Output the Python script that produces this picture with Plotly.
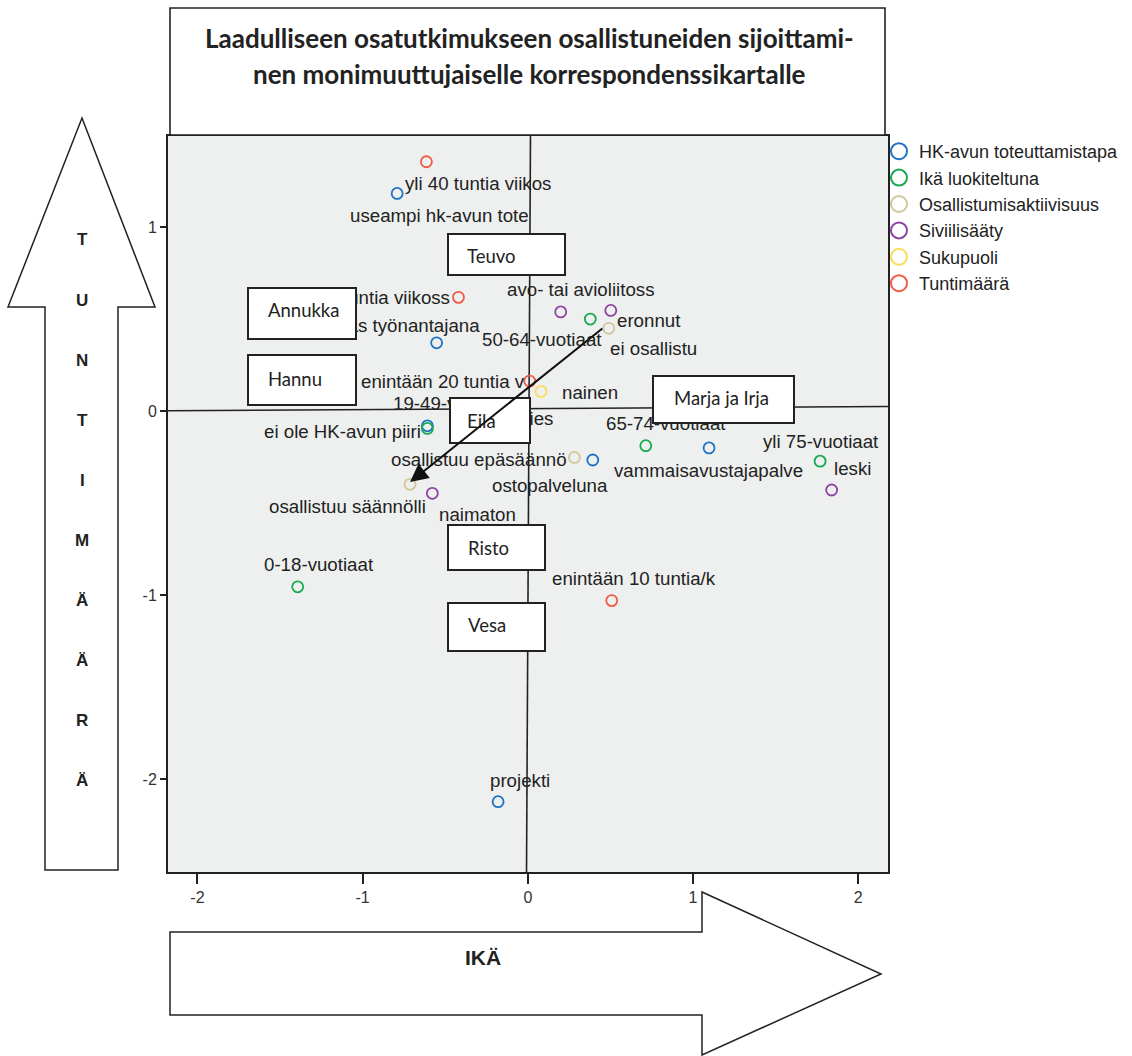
import plotly.graph_objects as go

# ---------------- data (correspondence-map coordinates) ----------------
HK_LABELS = ["useampi hk-avun tote", "asiakas työnantajana", "ei ole HK-avun piiri",
             "ostopalveluna", "vammaisavustajapalve", "projekti"]
HK_X = [-0.791, -0.552, -0.608, 0.393, 1.097, -0.180]
HK_Y = [1.183, 0.371, -0.080, -0.266, -0.200, -2.123]

IKA_LABELS = ["0-18-vuotiaat", "19-49-vuotiaat", "50-64-vuotiaat", "65-74-vuotiaat", "yli 75-vuotiaat"]
IKA_X = [-1.393, -0.608, 0.378, 0.714, 1.769]
IKA_Y = [-0.955, -0.094, 0.500, -0.188, -0.272]

OSA_LABELS = ["ei osallistu", "osallistuu epäsäännö", "osallistuu säännölli"]
OSA_X = [0.490, 0.282, -0.713]
OSA_Y = [0.450, -0.252, -0.398]

SIV_LABELS = ["avo- tai avioliitoss", "eronnut", "naimaton", "leski"]
SIV_X = [0.199, 0.502, -0.578, 1.839]
SIV_Y = [0.539, 0.547, -0.447, -0.429]

SUK_LABELS = ["nainen", "mies"]
SUK_X = [0.080, -0.090]
SUK_Y = [0.107, -0.120]

TUN_LABELS = ["yli 40 tuntia viikos", "21-40 tuntia viikoss", "enintään 20 tuntia v", "enintään 10 tuntia/k"]
TUN_X = [-0.614, -0.420, 0.011, 0.508]
TUN_Y = [1.355, 0.618, 0.163, -1.030]

SERIES_NAMES = ["HK-avun toteuttamistapa", "Ikä luokiteltuna", "Osallistumisaktiivisuus",
                "Siviilisääty", "Sukupuoli", "Tuntimäärä"]

PERSONS = ["Teuvo", "Annukka", "Hannu", "Eila", "Marja ja Irja", "Risto", "Vesa"]

TITLE_LINES = ["Laadulliseen osatutkimukseen osallistuneiden sijoittami-",
               "nen monimuuttujaiselle korrespondenssikartalle"]
X_TICKS = [-2, -1, 0, 1, 2]
X_TICK_TEXT = ["-2", "-1", "0", "1", "2"]
Y_TICKS = [-2, -1, 0, 1]
Y_TICK_TEXT = ["-2", "-1", "0", "1"]
Y_ARROW_TEXT = "TUNTIMÄÄRÄ"
X_ARROW_TEXT = "IKÄ"

# ---------------- styling / layout ----------------
COLORS = ["#1F72C4", "#16A94F", "#D2C69C", "#8E44A6", "#F9DD5B", "#EF5B47"]
LABEL_FONT = dict(family="Liberation Sans, Arial, sans-serif", size=18.7, color="#222222")
BOX_FONT = dict(family="Lato, Open Sans, sans-serif", size=18.5, color="#222222")

# label placement: (anchor, dx px, dy px downward) relative to the point
LABEL_OFFSETS = {
    "useampi hk-avun tote": ("left", -47.6, 21.7),
    "asiakas työnantajana": ("right", 43.0, -17.7),
    "ei ole HK-avun piiri": ("right", -6.0, 6.0),
    "ostopalveluna": ("left", -101.0, 25.0),
    "vammaisavustajapalve": ("left", -94.7, 22.3),
    "projekti": ("left", -8.0, -21.7),
    "0-18-vuotiaat": ("left", -34.0, -22.7),
    "19-49-vuotiaat": ("left", -34.0, -25.0),
    "50-64-vuotiaat": ("left", -108.6, 20.3),
    "65-74-vuotiaat": ("left", -40.0, -22.4),
    "yli 75-vuotiaat": ("left", -57.3, -19.3),
    "ei osallistu": ("left", 1.3, 20.7),
    "osallistuu epäsäännö": ("right", -7.6, 2.0),
    "osallistuu säännölli": ("right", 16.0, 21.7),
    "avo- tai avioliitoss": ("left", -53.4, -22.4),
    "eronnut": ("left", 6.6, 9.7),
    "naimaton": ("left", 6.4, 20.7),
    "leski": ("left", 2.6, -21.7),
    "nainen": ("left", 20.7, 1.4),
    "mies": ("right", 40.3, -14.7),
    "yli 40 tuntia viikos": ("left", -21.6, 21.6),
    "21-40 tuntia viikoss": ("right", -8.0, 0.0),
    "enintään 20 tuntia v": ("right", -4.7, 0.0),
    "enintään 10 tuntia/k": ("left", -60.0, -21.7),
}

# person boxes in page pixels: (left, top, right, bottom, text-left, text-center-y)
BOX_PX = {
    "Teuvo": (447, 233, 566, 276, 466, 256),
    "Annukka": (247, 287, 357, 340, 267, 310),
    "Hannu": (247, 354, 357, 406, 267, 379),
    "Eila": (449, 397, 531, 444, 466, 421),
    "Marja ja Irja": (652, 375, 795, 424, 673, 398),
    "Risto": (447, 524, 546, 571, 467, 548),
    "Vesa": (447, 602, 546, 652, 467, 625),
}

W, H = 1132, 1056
PL, PR, PT, PB = 168, 888, 136, 872
X_RANGE = [-2.178, 2.180]
Y_RANGE = [-2.505, 1.495]


def pxx(px):
    return (px - PL) / (PR - PL)


def pxy(py):
    return (PB - py) / (PB - PT)


series = [
    (HK_LABELS, HK_X, HK_Y),
    (IKA_LABELS, IKA_X, IKA_Y),
    (OSA_LABELS, OSA_X, OSA_Y),
    (SIV_LABELS, SIV_X, SIV_Y),
    (SUK_LABELS, SUK_X, SUK_Y),
    (TUN_LABELS, TUN_X, TUN_Y),
]

fig = go.Figure()

# reference lines (drawn slightly tilted as in the original)
fig.add_shape(type="line", xref="x", yref="y", x0=X_RANGE[0], y0=0.0016, x1=X_RANGE[1], y1=0.0245,
              line=dict(color="#222222", width=1.6), layer="below")
fig.add_shape(type="line", xref="x", yref="y", x0=0.016, y0=Y_RANGE[1], x1=-0.008, y1=Y_RANGE[0],
              line=dict(color="#222222", width=1.6), layer="below")

for (labels, xs, ys), name, col in zip(series, SERIES_NAMES, COLORS):
    fig.add_trace(go.Scatter(
        x=xs, y=ys, mode="markers", name=name, showlegend=False,
        marker=dict(symbol="circle-open", size=11, color=col, line=dict(width=1.8, color=col)),
        text=labels, hoverinfo="text"))
for name, col in zip(SERIES_NAMES, COLORS):
    fig.add_trace(go.Scatter(
        x=[None], y=[None], mode="markers", name=name, showlegend=True,
        marker=dict(symbol="circle-open", size=16, color=col, line=dict(width=2, color=col))))

# point labels
for labels, xs, ys in series:
    for lab, xv, yv in zip(labels, xs, ys):
        anc, dx, dy = LABEL_OFFSETS[lab]
        fig.add_annotation(x=xv, y=yv, xref="x", yref="y", text=lab, showarrow=False,
                           xanchor=anc, yanchor="middle", xshift=dx, yshift=-dy,
                           borderpad=0, borderwidth=0, font=LABEL_FONT)

# person boxes (drawn after the labels so they cover them)
for p in PERSONS:
    l, t, r, b, tl, tc = BOX_PX[p]
    fig.add_annotation(x=pxx(l), y=pxy(t), xref="paper", yref="paper", text=" ", showarrow=False,
                       xanchor="left", yanchor="top", width=r - l - 4, height=b - t - 4,
                       bgcolor="white", bordercolor="#222222", borderwidth=2, borderpad=0)
    fig.add_annotation(x=pxx(tl), y=pxy(tc), xref="paper", yref="paper", text=p, showarrow=False,
                       xanchor="left", yanchor="middle", borderpad=0, font=BOX_FONT)

# arrow from "ei osallistu" to "osallistuu säännölli"
fig.add_annotation(x=OSA_X[2], y=OSA_Y[2] + 0.012, ax=OSA_X[0] - 0.03, ay=OSA_Y[0] + 0.005,
                   xref="x", yref="y", axref="x", ayref="y", text="", showarrow=True,
                   arrowhead=2, arrowsize=1.8, arrowwidth=2, arrowcolor="#111111")

# title box
fig.add_shape(type="rect", xref="paper", yref="paper", x0=pxx(170), x1=pxx(885), y0=pxy(135), y1=pxy(8),
              line=dict(color="#222222", width=1.6), fillcolor="white", layer="above")
for line, cy in zip(TITLE_LINES, [38, 74]):
    fig.add_annotation(x=pxx(529), y=pxy(cy), xref="paper", yref="paper", text="<b>%s</b>" % line,
                       showarrow=False, xanchor="center", yanchor="middle",
                       font=dict(family="Lato, Open Sans, sans-serif", size=26, color="#222222"))

# big vertical arrow (TUNTIMÄÄRÄ)
va = [(82, 118), (155, 307), (118, 307), (118, 870), (45, 870), (45, 307), (8, 307)]
path = "M " + " L ".join("%f,%f" % (pxx(a), pxy(b)) for a, b in va) + " Z"
fig.add_shape(type="path", xref="paper", yref="paper", path=path,
              line=dict(color="#222222", width=1.5), fillcolor="white")
for i, ch in enumerate(Y_ARROW_TEXT):
    fig.add_annotation(x=pxx(82), y=pxy(240 + 60 * i), xref="paper", yref="paper", text="<b>%s</b>" % ch,
                       showarrow=False, xanchor="center", yanchor="middle",
                       font=dict(family="Liberation Sans, Arial, sans-serif", size=17, color="#222222"))

# big horizontal arrow (IKÄ)
ha = [(170, 932), (702, 932), (702, 892), (881, 974), (702, 1055), (702, 1015), (170, 1015)]
path = "M " + " L ".join("%f,%f" % (pxx(a), pxy(b)) for a, b in ha) + " Z"
fig.add_shape(type="path", xref="paper", yref="paper", path=path,
              line=dict(color="#222222", width=1.5), fillcolor="white")
fig.add_annotation(x=pxx(483), y=pxy(957), xref="paper", yref="paper", text="<b>%s</b>" % X_ARROW_TEXT,
                   showarrow=False, xanchor="center", yanchor="middle",
                   font=dict(family="Liberation Sans, Arial, sans-serif", size=21, color="#222222"))

axis_common = dict(showgrid=False, zeroline=False, showline=True, linewidth=2, linecolor="#222222",
                   mirror=True, ticks="outside", tickwidth=2, tickcolor="#222222",
                   tickfont=dict(family="Liberation Sans, Arial, sans-serif", size=16, color="#333333"))
fig.update_xaxes(range=X_RANGE, tickvals=X_TICKS, ticktext=X_TICK_TEXT, ticklen=10, **axis_common)
fig.update_yaxes(range=Y_RANGE, tickvals=Y_TICKS, ticktext=Y_TICK_TEXT, ticklen=6, **axis_common)

fig.update_layout(
    width=W, height=H,
    margin=dict(l=PL, r=W - PR, t=PT, b=H - PB, autoexpand=False),
    paper_bgcolor="white", plot_bgcolor="#EEF0EF",
    showlegend=True,
    legend=dict(x=pxx(879), y=pxy(133), xanchor="left", yanchor="top", bgcolor="rgba(0,0,0,0)",
                font=dict(family="Liberation Sans, Arial, sans-serif", size=18, color="#222222"),
                itemwidth=30, tracegroupgap=0),
)

fig.write_html("out.html", config={"displayModeBar": False},
               post_script="document.body.style.margin='0px';")
